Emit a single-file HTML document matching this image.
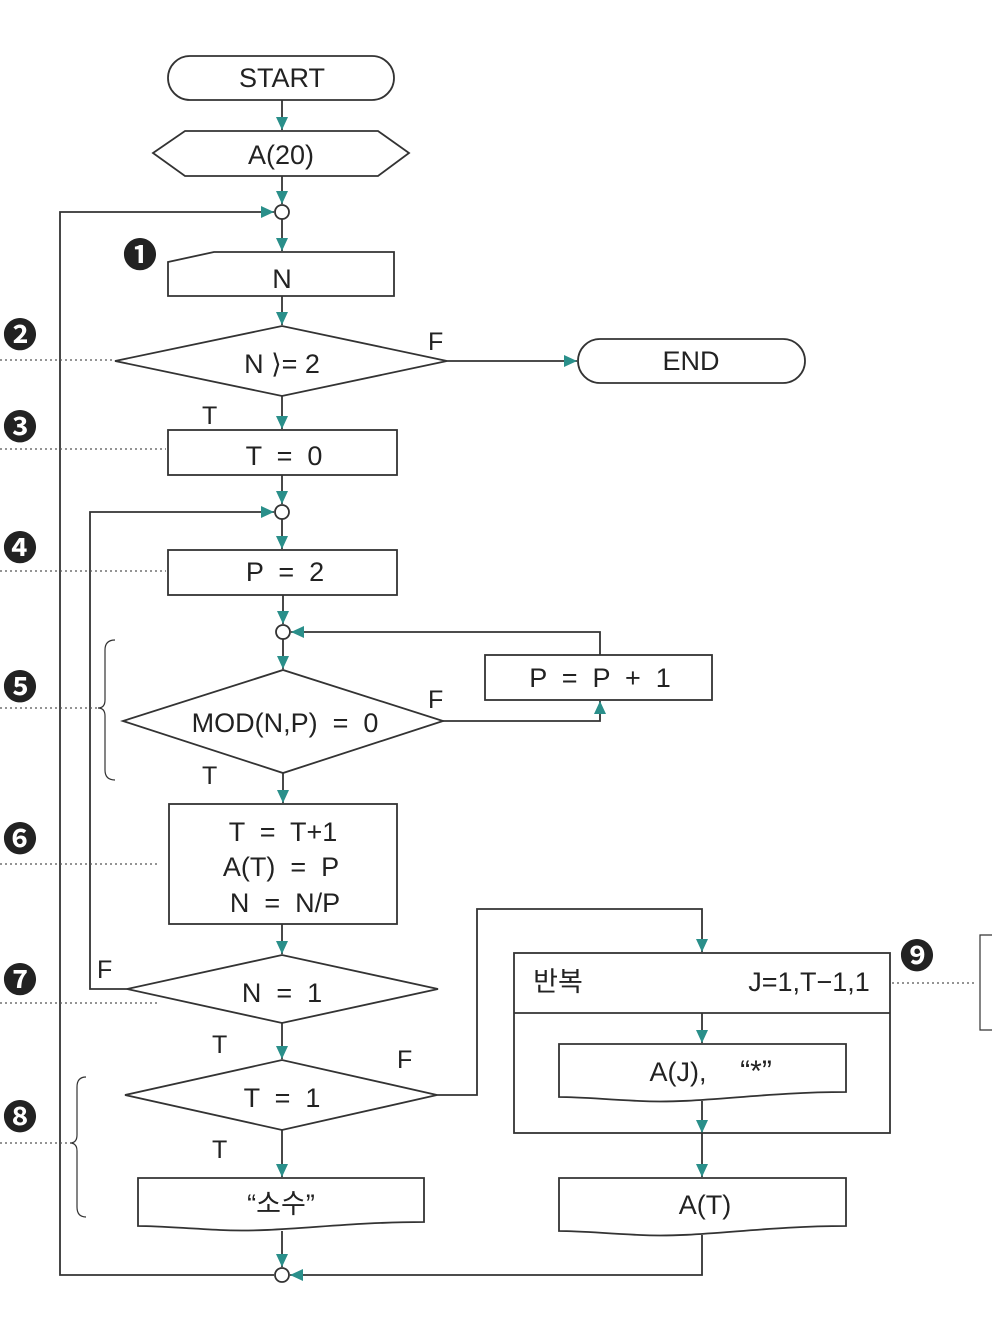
<!DOCTYPE html>
<html><head><meta charset="utf-8"><style>
html,body{margin:0;padding:0;background:#fff;}
svg{display:block;}
text{font-family:"Liberation Sans","Noto Sans CJK KR",sans-serif;fill:#222;white-space:pre;}
</style></head><body>
<svg width="1000" height="1341" viewBox="0 0 1000 1341" xmlns="http://www.w3.org/2000/svg">
<defs>
<marker id="a" markerWidth="14" markerHeight="14" refX="13" refY="6" orient="auto" markerUnits="userSpaceOnUse">
<path d="M0,0 L13,6 L0,12 z" fill="#2a8f8a"/></marker>
</defs>
<g stroke="#333" stroke-width="1.8" fill="none">
<rect x="168" y="56" width="226" height="44" rx="22" fill="#fff"/>
<path d="M282 100 V130" marker-end="url(#a)"/>
<polygon points="153,153 185,131 378,131 409,153 378,176 185,176" fill="#fff"/>
<path d="M282 176 V204" marker-end="url(#a)"/>
<circle cx="282" cy="212" r="7" fill="#fff"/>
<path d="M274 1275 H60 V212 H274" marker-end="url(#a)"/>
<path d="M282 219 V251" marker-end="url(#a)"/>
<polygon points="168,262 214,252 394,252 394,296 168,296" fill="#fff"/>
<path d="M282 296 V325" marker-end="url(#a)"/>
<polygon points="115,361 282,326 447,361 282,396" fill="#fff"/>
<path d="M447 361 H577" marker-end="url(#a)"/>
<rect x="578" y="339" width="227" height="44" rx="22" fill="#fff"/>
<path d="M282 396 V429" marker-end="url(#a)"/>
<rect x="168" y="430" width="229" height="45" fill="#fff"/>
<path d="M282 475 V504" marker-end="url(#a)"/>
<circle cx="282" cy="512" r="7" fill="#fff"/>
<path d="M127 989 H90 V512 H274" marker-end="url(#a)"/>
<path d="M282 519 V549" marker-end="url(#a)"/>
<rect x="168" y="550" width="229" height="45" fill="#fff"/>
<path d="M283 595 V624" marker-end="url(#a)"/>
<circle cx="283" cy="632" r="7" fill="#fff"/>
<path d="M600 655 V632 H291" marker-end="url(#a)"/>
<rect x="485" y="655" width="227" height="45" fill="#fff"/>
<path d="M283 639 V669" marker-end="url(#a)"/>
<polygon points="123,721 283,670 443,721 283,773" fill="#fff"/>
<path d="M443 721 H600 V701" marker-end="url(#a)"/>
<path d="M283 773 V803" marker-end="url(#a)"/>
<rect x="169" y="804" width="228" height="120" fill="#fff"/>
<path d="M282 924 V954" marker-end="url(#a)"/>
<polygon points="127,989 282,955 438,989 282,1023" fill="#fff"/>
<path d="M282 1023 V1059" marker-end="url(#a)"/>
<polygon points="125,1095 282,1060 437,1095 282,1130" fill="#fff"/>
<path d="M437 1095 H477 V909 H702 V952" marker-end="url(#a)"/>
<rect x="514" y="953" width="376" height="180" fill="#fff"/>
<path d="M514 1013 H890"/>
<path d="M702 1013 V1043" marker-end="url(#a)"/>
<path d="M559 1044 H846 V1092 C760 1092,700 1104,640 1101 C600 1099,580 1097,559 1097 Z" fill="#fff"/>
<path d="M702 1101 V1133" marker-end="url(#a)"/>
<path d="M702 1133 V1177" marker-end="url(#a)"/>
<path d="M559 1178 H846 V1226 C760 1226,700 1238,640 1235 C600 1233,580 1231,559 1231 Z" fill="#fff"/>
<path d="M282 1130 V1177" marker-end="url(#a)"/>
<path d="M138 1178 H424 V1222 C340 1222,280 1233,220 1230 C180 1228,160 1226,138 1226 Z" fill="#fff"/>
<path d="M282 1231 V1267" marker-end="url(#a)"/>
<path d="M702 1235 V1275 H290" marker-end="url(#a)"/>
<circle cx="282" cy="1275" r="7" fill="#fff"/>
<path d="M115 640 Q105 640 105 650 V700 Q105 708 98 708 Q105 708 105 716 V770 Q105 780 115 780" stroke-width="1.2"/>
<path d="M86 1077 Q77 1077 77 1087 V1135 Q77 1143 70 1143 Q77 1143 77 1151 V1207 Q77 1217 86 1217" stroke-width="1.2"/>
<path d="M992 935 H980 V1030 H992" stroke-width="1.2"/>
</g>
<g stroke="#555" stroke-width="1.3" stroke-dasharray="2,3" fill="none">
<path d="M0 360 H112"/><path d="M0 449 H166"/><path d="M0 571 H166"/>
<path d="M0 708 H100"/><path d="M0 864 H160"/><path d="M0 1003 H160"/>
<path d="M0 1143 H72"/><path d="M892 983 H976"/>
</g>
<g font-size="27" text-anchor="middle">
<text x="282" y="87">START</text>
<text x="281" y="164">A(20)</text>
<text x="282" y="288">N</text>
<text x="282" y="373">N ⟩= 2</text>
<text x="691" y="370">END</text>
<text x="284" y="465">T  =  0</text>
<text x="285" y="581">P  =  2</text>
<text x="600" y="687">P  =  P  +  1</text>
<text x="285" y="732">MOD(N,P)  =  0</text>
<text x="283" y="841">T  =  T+1</text>
<text x="281" y="876">A(T)  =  P</text>
<text x="285" y="912">N  =  N/P</text>
<text x="282" y="1002">N  =  1</text>
<text x="282" y="1107">T  =  1</text>
<text x="281" y="1213">“소수”</text>
<text x="705" y="1214">A(T)</text>
<text x="678" y="1081">A(J),</text>
<text x="756" y="1081" font-size="30">“*”</text>
<text x="558" y="991">반복</text>
<text x="809" y="991">J=1,T−1,1</text>
</g>
<g font-size="25">
<text x="428" y="350">F</text><text x="202" y="424">T</text>
<text x="428" y="708">F</text><text x="202" y="784">T</text>
<text x="97" y="978">F</text><text x="212" y="1053">T</text>
<text x="397" y="1068">F</text><text x="212" y="1158">T</text>
</g>
<g font-size="34" font-weight="bold" text-anchor="middle">
<text x="140" y="267">❶</text>
<text x="20" y="347">❷</text><text x="20" y="439">❸</text><text x="20" y="560">❹</text>
<text x="20" y="699">❺</text><text x="20" y="851">❻</text><text x="20" y="992">❼</text>
<text x="20" y="1129">❽</text><text x="917" y="968">❾</text>
</g>
</svg>
</body></html>
